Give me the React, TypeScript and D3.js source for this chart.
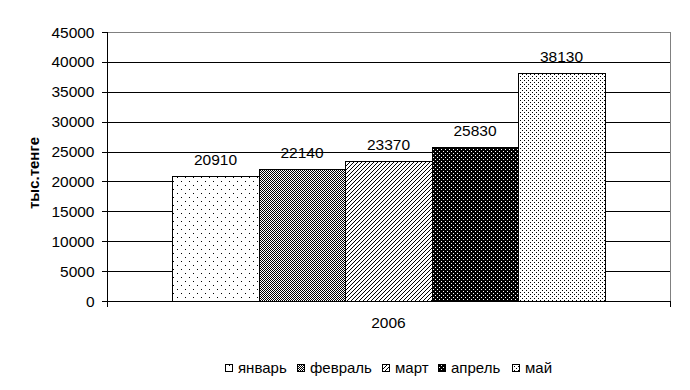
import React from "react";
import * as d3 from "d3";

const months = ["январь", "февраль", "март", "апрель", "май"];
const values = [20910, 22140, 23370, 25830, 38130];
const yTicks = [0, 5000, 10000, 15000, 20000, 25000, 30000, 35000, 40000, 45000];
const category = "2006";
const yTitle = "тыс.тенге";
const patternIds = ["pJan", "pFeb", "pMar", "pApr", "pMay"];

const W = 690, H = 390;
const plotL = 107, plotR = 670, plotT = 32, plotB = 301;
const font = "'Liberation Sans', Arial, sans-serif";

export default function App() {
  const y = d3.scaleLinear().domain([0, 45000]).range([plotB, plotT]);
  const x0 = d3.scaleBand().domain([category]).range([plotL, plotR]).paddingInner(0).paddingOuter(0.15);
  const x1 = d3.scaleBand().domain(months).range([x0(category)!, x0(category)! + x0.bandwidth()]).padding(0);

  const legendX = [225, 297, 382, 438, 512];

  return (
    <svg width={W} height={H} style={{ position: "fixed", left: 0, top: 0, background: "#fff" }} shapeRendering="crispEdges">
      <defs>
        <pattern id="pJan" width={8} height={8} patternUnits="userSpaceOnUse">
          <rect width={8} height={8} fill="#fff" />
          <rect x={1} y={1} width={1} height={1} fill="#000" />
          <rect x={5} y={5} width={1} height={1} fill="#000" />
        </pattern>
        <pattern id="pFeb" width={2} height={2} patternUnits="userSpaceOnUse">
          <rect width={2} height={2} fill="#fff" />
          <rect x={0} y={0} width={1} height={1} fill="#000" />
          <rect x={1} y={1} width={1} height={1} fill="#000" />
        </pattern>
        <pattern id="pMar" width={4} height={4} patternUnits="userSpaceOnUse">
          <rect width={4} height={4} fill="#fff" />
          <rect x={3} y={0} width={1} height={1} fill="#000" />
          <rect x={2} y={1} width={1} height={1} fill="#000" />
          <rect x={1} y={2} width={1} height={1} fill="#000" />
          <rect x={0} y={3} width={1} height={1} fill="#000" />
        </pattern>
        <pattern id="pApr" width={4} height={4} patternUnits="userSpaceOnUse">
          <rect width={4} height={4} fill="#000" />
          <rect x={1} y={1} width={1} height={1} fill="#fff" />
          <rect x={3} y={3} width={1} height={1} fill="#fff" />
        </pattern>
        <pattern id="pMay" width={4} height={4} patternUnits="userSpaceOnUse">
          <rect width={4} height={4} fill="#fff" />
          <rect x={0} y={0} width={1} height={1} fill="#000" />
          <rect x={2} y={2} width={1} height={1} fill="#000" />
        </pattern>
      </defs>

      {/* gridlines */}
      {yTicks.filter(t => t > 0 && t < 45000).map(t => (
        <line key={t} x1={plotL} x2={plotR} y1={Math.round(y(t)) + 0.5} y2={Math.round(y(t)) + 0.5} stroke="#000" />
      ))}
      {/* plot border top/right */}
      <line x1={plotL} x2={plotR} y1={plotT + 0.5} y2={plotT + 0.5} stroke="#808080" />
      <line x1={plotR + 0.5} x2={plotR + 0.5} y1={plotT} y2={plotB} stroke="#808080" />

      {/* bars */}
      {months.map((m, i) => {
        const bx = Math.round(x1(m)!);
        const bw = Math.round(x1(m)! + x1.bandwidth()) - bx;
        const by = Math.round(y(values[i]));
        return (
          <g key={m}>
            <rect x={bx + 0.5} y={by + 0.5} width={bw} height={plotB - by} fill={`url(#${patternIds[i]})`} stroke="#000" />
            <text x={bx + bw / 2} y={by - 11} textAnchor="middle" fontFamily={font} fontSize={15.5} fill="#000">
              {values[i]}
            </text>
          </g>
        );
      })}

      {/* y axis */}
      <line x1={plotL + 0.5} x2={plotL + 0.5} y1={plotT} y2={plotB + 1} stroke="#000" />
      {yTicks.map(t => (
        <g key={t}>
          <line x1={plotL - 5} x2={plotL} y1={Math.round(y(t)) + 0.5} y2={Math.round(y(t)) + 0.5} stroke="#000" />
          <text x={94.5} y={y(t) + 5.5} textAnchor="end" fontFamily={font} fontSize={15.5} fill="#000">
            {t}
          </text>
        </g>
      ))}
      {/* x axis */}
      <line x1={plotL - 5} x2={plotR + 1} y1={plotB + 0.5} y2={plotB + 0.5} stroke="#000" />
      <line x1={plotL + 0.5} x2={plotL + 0.5} y1={plotB} y2={plotB + 6} stroke="#000" />
      <line x1={plotR + 0.5} x2={plotR + 0.5} y1={plotB} y2={plotB + 6} stroke="#000" />
      <text x={x0(category)! + x0.bandwidth() / 2} y={328} textAnchor="middle" fontFamily={font} fontSize={15.5} fill="#000">
        {category}
      </text>

      {/* y title */}
      <text transform={`translate(39,173) rotate(-90)`} textAnchor="middle" fontFamily={font} fontSize={15} fontWeight="bold" fill="#000">
        {yTitle}
      </text>

      {/* legend */}
      {months.map((m, i) => (
        <g key={m}>
          <rect x={legendX[i] + 0.5} y={364.5} width={7} height={7} fill={`url(#${patternIds[i]})`} stroke="#000" />
          <text x={legendX[i] + 13} y={373} fontFamily={font} fontSize={15} fill="#000">
            {m}
          </text>
        </g>
      ))}
    </svg>
  );
}
